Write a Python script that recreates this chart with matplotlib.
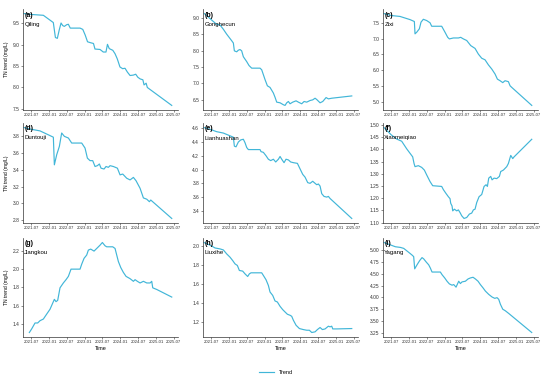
import matplotlib
matplotlib.use('Agg')
import matplotlib.pyplot as plt
import numpy as np
import pandas as pd

plt.rcParams['font.family'] = ['Liberation Sans', 'DejaVu Sans']

# months after 2021-07-01 and TN trend (mg/L) for each station
a_m = [-2.35, 0, 4.15, 7.5, 8.2, 8.85, 9.5, 10.1, 10.65, 11.2, 12, 12.55, 13.2, 16.5, 17.4, 18.2, 19, 19.9, 21, 21.5,
       23.2, 24.3, 25.2, 25.7, 26.3, 27.5, 28.25, 29, 29.9, 30.8, 31.6, 32.4, 33.3, 34.4, 35.2, 35.9, 36.7, 37.6, 38,
       38.7, 39.1, 47.3]
a_v = [9.73, 9.71, 9.69, 9.52, 9.17, 9.15, 9.35, 9.51, 9.45, 9.43, 9.47, 9.48, 9.39, 9.39, 9.36, 9.23, 9.07, 9.05, 9.03,
       8.9, 8.89, 8.83, 8.83, 9.01, 8.91, 8.87, 8.79, 8.67, 8.48, 8.44, 8.45, 8.36, 8.28, 8.29, 8.31, 8.24, 8.2, 8.18,
       8.06, 8.1, 8.0, 7.58]

b_m = [-2.24, 0, 1.9, 3.03, 4.15, 5.27, 6.95, 7.51, 7.85, 8.63, 9.19, 9.75, 10.31, 10.87, 12, 12.78, 13.68, 16.48, 17.04,
       17.6, 18.16, 18.95, 19.84, 20.96, 21.52, 22.09, 23.21, 24.33, 24.89, 25.45, 26.01, 26.57, 27.47, 28.59, 29.37,
       30.49, 31.28, 32.17, 33.3, 34.19, 34.98, 35.54, 36.66, 37.56, 38.68, 39.46, 40.58, 47.31]
b_v = [9.13, 8.95, 8.8, 8.78, 8.65, 8.5, 8.3, 8.23, 7.99, 7.96, 8.01, 8.03, 7.99, 7.81, 7.66, 7.54, 7.46, 7.46, 7.41, 7.26,
       7.11, 6.92, 6.87, 6.7, 6.57, 6.42, 6.4, 6.34, 6.32, 6.4, 6.44, 6.37, 6.42, 6.46, 6.42, 6.37, 6.44, 6.42, 6.47,
       6.49, 6.54, 6.5, 6.4, 6.44, 6.56, 6.52, 6.54, 6.61]

c_m = [-2.35, 0, 3.03, 6.39, 7.85, 8.07, 8.63, 9.53, 10.09, 10.87, 12, 13.12, 13.68, 17.04, 18.16, 19.06, 19.62, 20.96,
       22.65, 23.43, 24.33, 25.45, 26.79, 28.25, 29.37, 30.49, 31.61, 32.74, 33.86, 34.98, 35.76, 36.66, 37.56, 38.34,
       39.46, 40.02, 40.58, 47.31]
c_v = [7.79, 7.73, 7.7, 7.6, 7.54, 7.15, 7.2, 7.31, 7.52, 7.61, 7.57, 7.5, 7.39, 7.39, 7.2, 7.04, 6.99, 7.02, 7.02, 7.04,
       6.99, 6.94, 6.78, 6.69, 6.51, 6.38, 6.33, 6.17, 6.04, 5.88, 5.72, 5.67, 5.61, 5.67, 5.64, 5.51, 5.46, 4.89]

d_m = [-2.35, 0, 3.03, 7.51, 7.85, 8.63, 9.53, 10.31, 11.21, 12.56, 13.68, 17.04, 18.16, 18.95, 19.84, 20.74, 21.52,
       22.31, 22.98, 23.54, 24.55, 25.22, 26.01, 26.57, 27.69, 29.04, 29.93, 30.83, 32.17, 33.3, 34.42, 35.31, 36.66,
       37.78, 38.9, 39.8, 40.25, 47.31]
d_v = [3.905, 3.885, 3.865, 3.79, 3.46, 3.58, 3.68, 3.84, 3.80, 3.78, 3.72, 3.72, 3.66, 3.54, 3.51, 3.51, 3.44, 3.45,
       3.47, 3.42, 3.41, 3.44, 3.43, 3.45, 3.44, 3.42, 3.34, 3.35, 3.30, 3.28, 3.31, 3.27, 3.18, 3.065, 3.05, 3.02, 3.04,
       2.82]

e_m = [-2.35, 0, 1.9, 4.15, 6.39, 7.51, 7.85, 8.41, 9.19, 9.98, 10.87, 11.43, 12, 12.56, 16.48, 16.82, 17.6, 18.5, 19.28,
       20.07, 20.96, 21.75, 22.65, 23.21, 23.77, 24.55, 25.22, 26.01, 26.79, 27.69, 29.04, 29.93, 30.83, 31.61, 32.51,
       33.3, 34.19, 34.98, 35.54, 36.1, 36.66, 37.22, 38.0, 38.9, 39.46, 40.02, 47.31]
e_v = [4.61, 4.58, 4.55, 4.53, 4.49, 4.47, 4.34, 4.33, 4.40, 4.43, 4.44, 4.39, 4.32, 4.29, 4.29, 4.26, 4.25, 4.2, 4.15,
       4.13, 4.15, 4.11, 4.15, 4.19, 4.15, 4.10, 4.15, 4.14, 4.11, 4.10, 4.09, 4.01, 3.93, 3.89, 3.81, 3.80, 3.83, 3.80,
       3.78, 3.79, 3.76, 3.65, 3.61, 3.60, 3.61, 3.58, 3.29]

f_m = [-2.35, 0, 1.9, 3.59, 5.27, 7.29, 7.74, 8.07, 9.19, 10.31, 11.21, 12, 13.12, 14.01, 17.04, 17.6, 18.5, 19.28,
       19.84, 20.07, 20.52, 20.74, 21.3, 22.09, 22.65, 23.21, 23.77, 24.55, 25.45, 26.35, 27.13, 27.69, 28.25, 28.81,
       29.6, 30.49, 31.28, 31.95, 32.4, 32.85, 33.52, 33.97, 34.64, 35.54, 36.43, 36.88, 37.78, 38.9, 39.46, 40.25,
       40.92, 41.37, 47.31]
f_v = [1.489, 1.46, 1.442, 1.433, 1.402, 1.369, 1.342, 1.329, 1.333, 1.326, 1.315, 1.295, 1.268, 1.251, 1.248, 1.235,
       1.219, 1.206, 1.198, 1.179, 1.168, 1.148, 1.155, 1.148, 1.152, 1.141, 1.128, 1.117, 1.121, 1.135, 1.139, 1.152,
       1.155, 1.182, 1.206, 1.215, 1.248, 1.255, 1.248, 1.282, 1.289, 1.275, 1.282, 1.280, 1.289, 1.309, 1.315, 1.329,
       1.342, 1.375, 1.362, 1.369, 1.441]

g_m = [-0.56, 0.22, 1.35, 2.24, 3.03, 4.15, 5.27, 6.39, 7.51, 7.85, 8.41, 8.97, 9.75, 10.87, 11.77, 12.56, 13.45, 16.48,
       17.04, 17.83, 18.72, 19.28, 20.07, 20.63, 21.19, 22.09, 23.21, 23.99, 24.89, 25.45, 26.57, 27.47, 28.25, 28.81,
       29.37, 30.16, 31.05, 31.95, 33.3, 34.42, 34.98, 35.76, 36.66, 37.78, 38.9, 40.02, 40.58, 40.92, 42.26, 47.31]
g_v = [1.307, 1.346, 1.411, 1.411, 1.436, 1.454, 1.508, 1.561, 1.644, 1.669, 1.644, 1.658, 1.795, 1.848, 1.884, 1.92,
       1.999, 1.999, 2.053, 2.117, 2.153, 2.207, 2.218, 2.207, 2.196, 2.225, 2.261, 2.29, 2.254, 2.243, 2.243, 2.243,
       2.225, 2.153, 2.082, 2.017, 1.963, 1.92, 1.895, 1.866, 1.884, 1.866, 1.848, 1.866, 1.848, 1.848, 1.866, 1.795,
       1.777, 1.694]

h_m = [-2.35, 0, 1.35, 3.03, 4.15, 5.27, 6.39, 7.29, 8.07, 8.86, 9.53, 10.65, 11.43, 12.33, 12.89, 13.45, 17.04, 17.6,
       18.5, 19.28, 19.84, 20.74, 21.52, 22.31, 23.21, 24.1, 24.89, 25.67, 26.57, 27.13, 27.69, 28.59, 29.71, 31.05,
       32.17, 33.07, 33.86, 34.98, 35.76, 36.66, 37.44, 38.34, 39.46, 40.02, 40.58, 40.92, 42.26, 47.31]
h_v = [2.04, 2.007, 1.982, 1.972, 1.961, 1.919, 1.884, 1.848, 1.813, 1.796, 1.743, 1.736, 1.707, 1.679, 1.707, 1.718,
       1.718, 1.69, 1.644, 1.584, 1.514, 1.478, 1.419, 1.408, 1.362, 1.327, 1.302, 1.278, 1.267, 1.256, 1.214, 1.161,
       1.126, 1.115, 1.108, 1.108, 1.084, 1.091, 1.115, 1.137, 1.115, 1.122, 1.151, 1.144, 1.151, 1.122, 1.122, 1.126]

i_m = [-2.35, 0, 1.46, 3.14, 4.26, 5.94, 7.06, 7.62, 7.96, 8.74, 9.64, 10.43, 10.99, 11.88, 12.67, 13.23, 13.79, 16.59,
       17.15, 18.05, 18.83, 19.62, 20.52, 21.08, 21.86, 22.76, 23.32, 23.88, 25, 25.9, 26.68, 27.58, 28.36, 29.26,
       30.04, 30.94, 31.73, 32.85, 33.97, 34.87, 35.65, 36.21, 36.77, 37.56, 38.45, 39.57, 47.3]
i_v = [5.153, 5.098, 5.064, 5.05, 5.03, 4.947, 4.89, 4.857, 4.6, 4.684, 4.774, 4.836, 4.809, 4.74, 4.684, 4.616, 4.533,
       4.533, 4.478, 4.409, 4.34, 4.284, 4.257, 4.27, 4.216, 4.34, 4.291, 4.326, 4.34, 4.388, 4.409, 4.423, 4.388, 4.34,
       4.27, 4.2, 4.133, 4.064, 4.009, 3.981, 3.995, 3.96, 3.857, 3.753, 3.719, 3.664, 3.264]

panel_tags = ['(a)', '(b)', '(c)', '(d)', '(e)', '(f)', '(g)', '(h)', '(i)']
stations = ['Qiling', 'Gonghecun', 'Zixi', 'Duntouji', 'Lianhuashan', 'Xiaomeiqiao', 'Jiangkou', 'Liuxihe', 'Yagang']
months = [a_m, b_m, c_m, d_m, e_m, f_m, g_m, h_m, i_m]
values = [a_v, b_v, c_v, d_v, e_v, f_v, g_v, h_v, i_v]

base = pd.Timestamp('2021-07-01')
tick_dates = pd.date_range('2021-07-01', '2025-07-01', freq='6MS')
line_color = '#41B6D8'

W, H = 550, 379
col_x = [22.7, 202.7, 382.7]
ax_w = 155.6
rows = [(9, 110), (123, 223), (238, 337)]

fig = plt.figure(figsize=(5.5, 3.79), dpi=100)
for k in range(9):
    r, c = divmod(k, 3)
    top, bot = rows[r]
    ax = fig.add_axes([col_x[c] / W, 1 - bot / H, ax_w / W, (bot - top) / H])
    dates = base + pd.to_timedelta(np.array(months[k]) * 30.4375, unit='D')
    ln, = ax.plot(dates, values[k], color=line_color, lw=0.85, label='Trend')
    ax.margins(y=0.05)
    ax.set_xlim(base - pd.Timedelta(days=85), base + pd.Timedelta(days=1507))
    ax.set_xticks(tick_dates)
    ax.set_xticklabels([d.strftime('%Y-%m') for d in tick_dates])
    for s in ['top', 'right']:
        ax.spines[s].set_visible(False)
    for s in ['left', 'bottom']:
        ax.spines[s].set_color('#333333')
        ax.spines[s].set_linewidth(0.5)
    ax.tick_params(length=1.5, width=0.4, pad=1, labelsize=3.5, colors='#333333')
    ax.tick_params(axis='x', labelsize=3.1)
    ax.text(0.01, 0.94, panel_tags[k], transform=ax.transAxes, fontsize=5, fontweight='bold', va='center', ha='left')
    ax.text(0.01, 0.85, stations[k], transform=ax.transAxes, fontsize=4.3, va='center', ha='left')
    if c == 0:
        ax.set_ylabel('TN trend (mg/L)', fontsize=3.6)
        ax.yaxis.set_label_coords(-0.085, 0.5)
    if r == 2:
        ax.set_xlabel('Time', fontsize=4, labelpad=1)

fig.legend(handles=[ln], loc='center', bbox_to_anchor=(276 / W, 1 - 372 / H), frameon=False, fontsize=4,
           handlelength=2.8)
fig.savefig('out.png', dpi=100)
